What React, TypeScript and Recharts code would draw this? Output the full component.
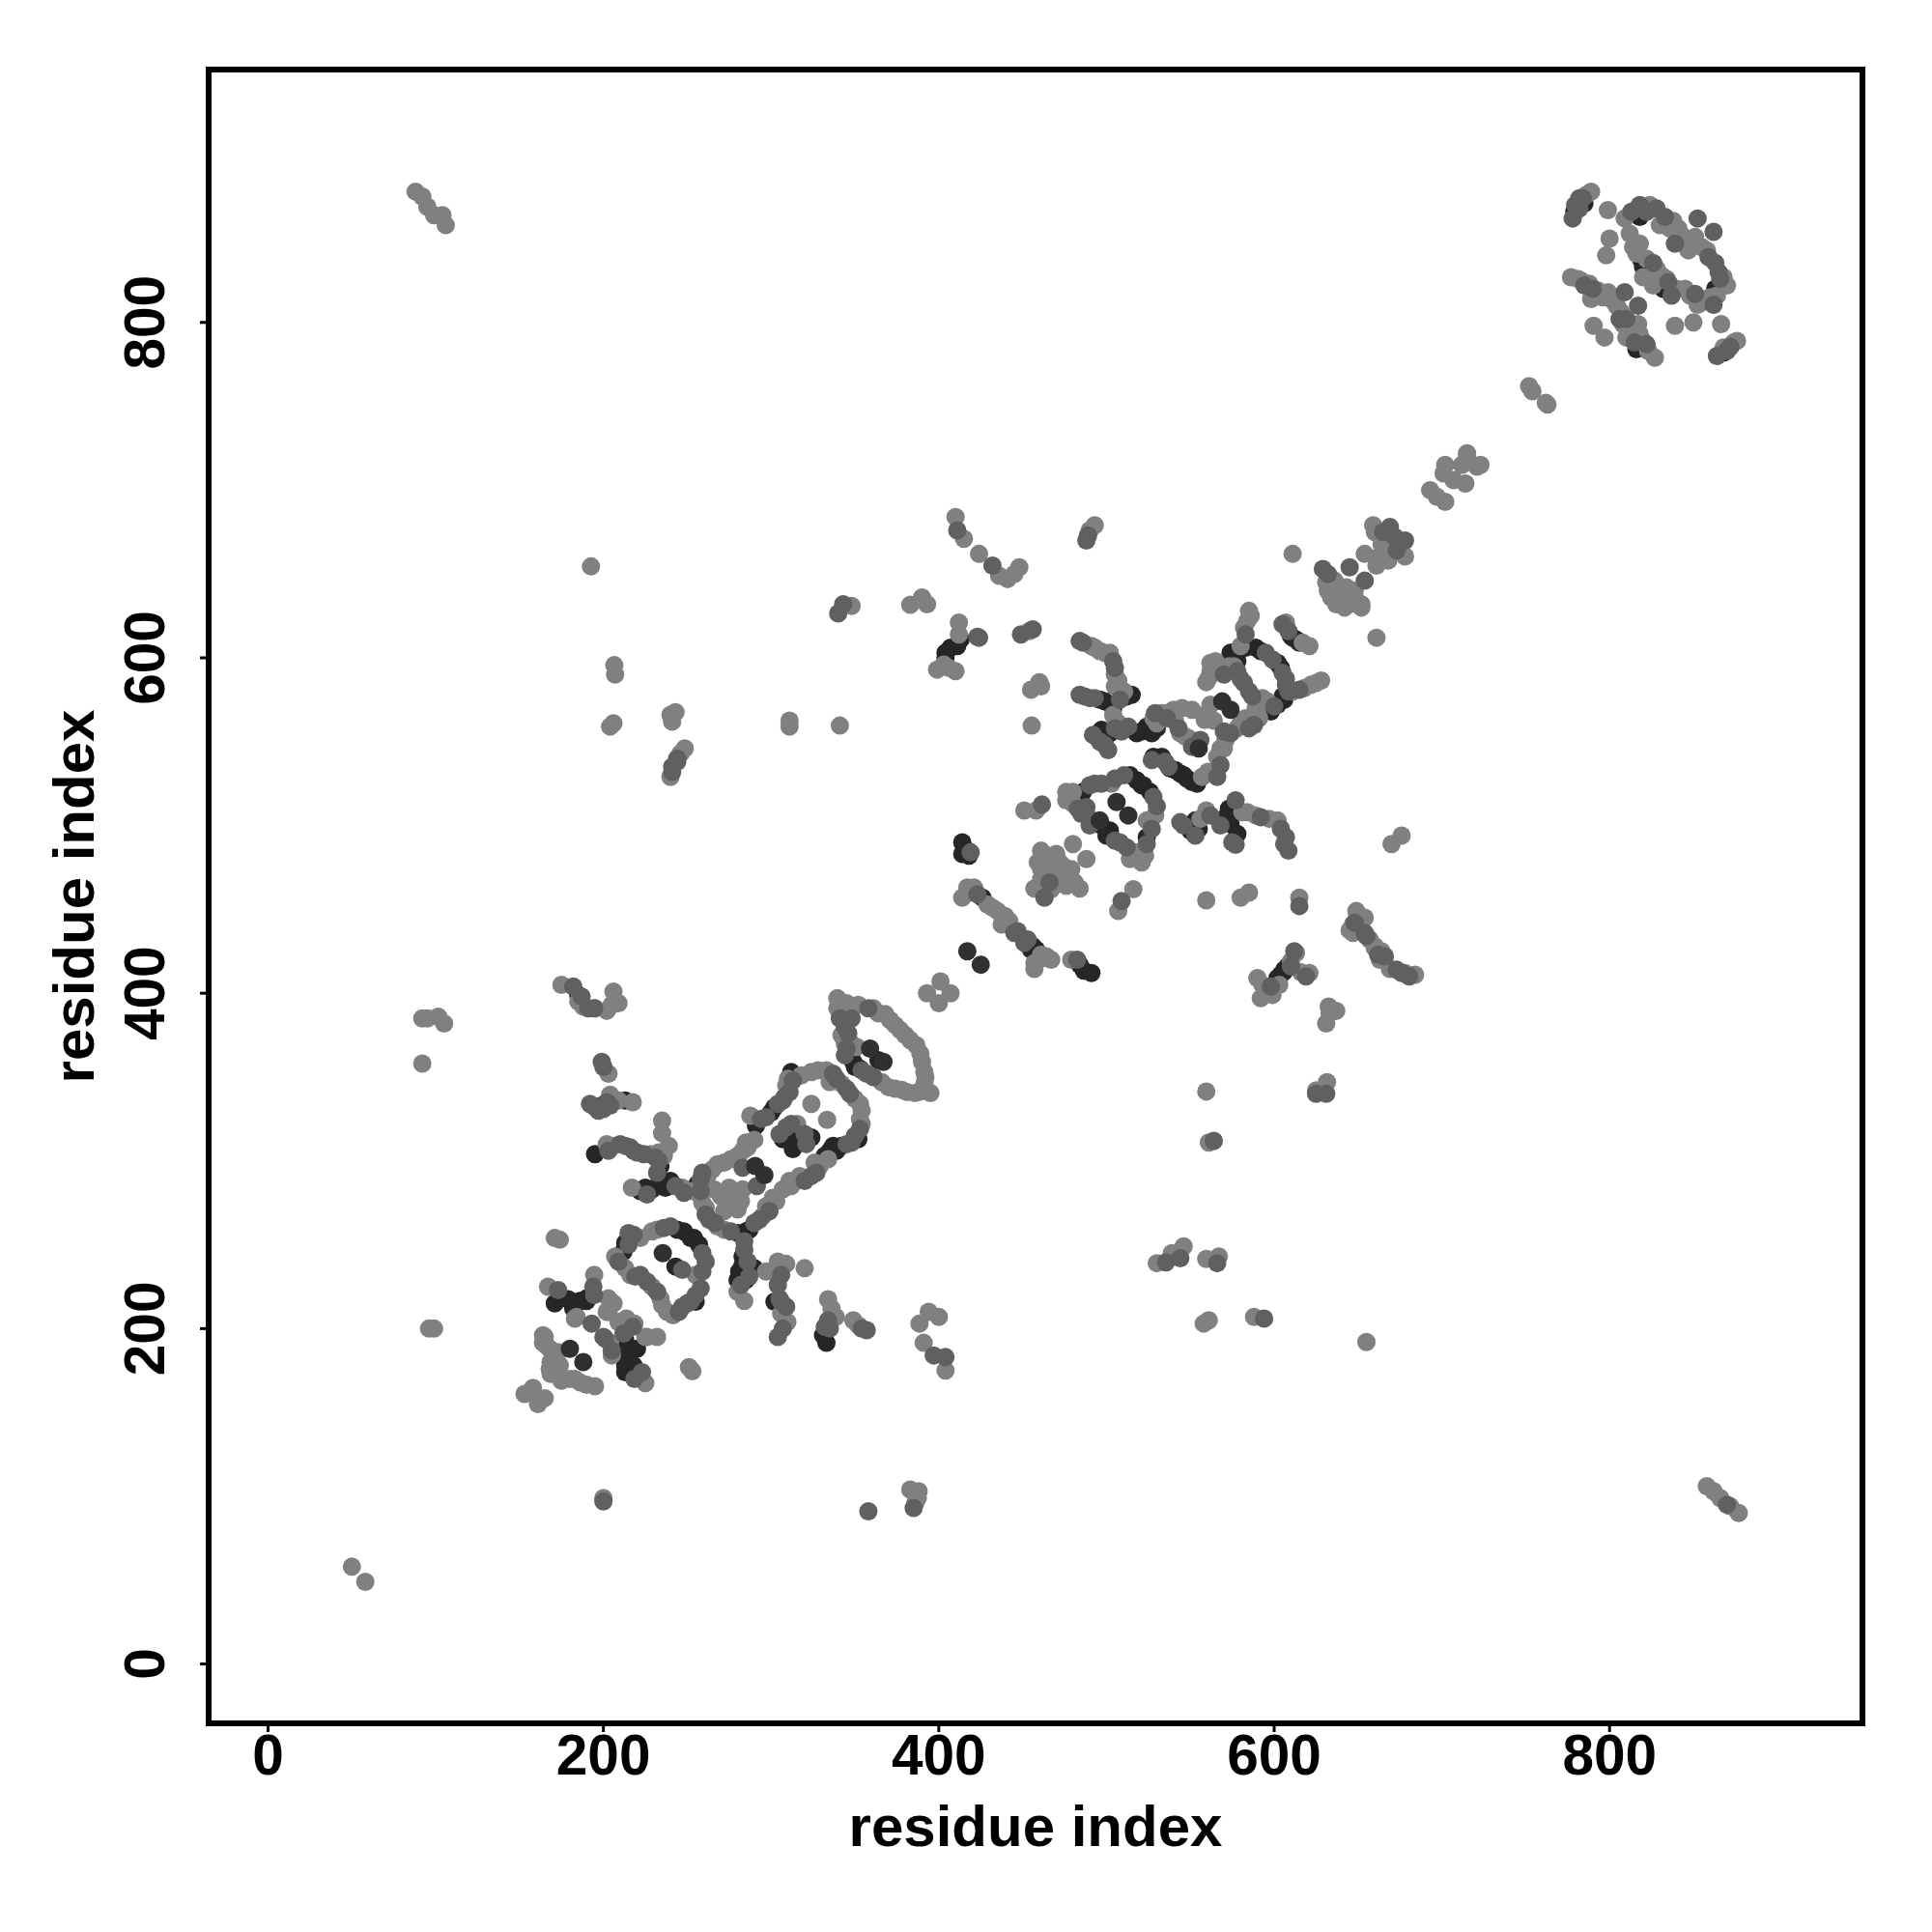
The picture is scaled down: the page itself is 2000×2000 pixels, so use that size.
import { ReferenceArea, Scatter, ScatterChart, XAxis, YAxis } from "recharts";

const tickValues = [0, 200, 400, 600, 800];
const axisDomain = [-35.4, 950.8];
const axisTitle = "residue index";

// residue pairs, split by grey level (dark under, mid over light)
const darkPairs = [
  [185,399],[179,217.5],[186,216.5],[182,212],[190,218],[213,193],[220,188],[215,181],[213,174],[218,178],[213,251],[248,258],[257,250],[252,254],
  [243,237],[281,234],[290,236],[280,229],[285,229],[285,258],[280,257],[333,191.5],[331,196],[302,332],[291,321],[312,353],[352,313],[337,309],[332,303],
  [307,313],[313,307],[324,314],[335,306],[349,359],[364,360],[353,355],[235,285],[240,288],[229,283],[222,282],[195,304],[213,336],
  [417,485],[414,490],[418,482],[426,457],[456,428],[486.5,413.5],[491,412],[484,417],[515,578],[499,574],[504,570],[502,555],[497,557],[518,555],[527,555],
  [524,559],[533,541],[541,533],[551,526],[546,530],[484,517],[518,527],[526,520],[522,524],[524,493],[502,497],[497,500],[551,501],[555,498],[570,504],[574,501],
  [574,603],[578,598],[589,606],[604,594],[602,572],[606,575],[598,568],[606,413],[602,409],[608,416],[599,404],[615,609],[611,612],[819,837],[820,833],[816,784],
  [818,863],[832,820],[863,820],[868,782],[785,871],[779,866],[404,603],[407,606],[411,607],[413,611],[455,426],[451,431],[302,216],[283,238],
  [171,215],[190,216.5],[211,186],[215,188],[213,178],[350,356],[300,329],[342,309],[339,306],[287,259],[283,256],[311,318],[316,312],[256,286],[212,246],[244,259],[254,254],[255,216],
  [283,243],[332,196],[225,284],[233,286],[237,284],[199,333],[234,297],[578,604],[576,601],[583,606],[592,604],[602,597],[605,577],[552,548],[610,613],[613,611],[512,577],[496,575],[521,556],[530,558],
  [528,541],[538,534],[544,531],[548,528],[554,525],[486,520],[514,530],[521,524],[500,494],[553,503],[550,497],[572,506],[573,510],[578,495],[458,426],[414,483],[604,411],[606,414],[404,600]
];
const midPairs = [
  [182,404],[191,391],[194.5,391],[199,359],[200,356],[192,334],[195,332],[200,331],[202,335],[210,310],[216,308],[220,305],[203,306],[233,300],[232,293],
  [173,223],[194,225],[193,203],[200,195],[217.5,201],[205,187],[223,174],[218.5,170],[215,257],[222,232],[232,222],[247,213],[255,220],[252,216],[240,261],[261,240],[247,235],
  [284,247],[286,240],[305,218],[309,213],[304,195],[332,201],[357,199],[397,184],[404,183],[344,380],[344,363],[341,385],[354,354],[361,350],[358,391],[346,376],
  [297,326],[307,336],[311,341],[339,349],[347,340],[353,319],[345,310],[324,291],[320,288],[309,320],[321,310],[293,265],[291.5,285],[259,293],[261,268],[266.5,263],[283,296],
  [488,670],[489,673],[432,655],[449,614],[456,617],[424,612],[484,610],[505,594],[484,578],[490,576],[492,554],[501,545],[513,559],[529,567],[570,556],[543,558],[551,547],
  [527,539],[537,535],[566,529],[493,525],[510.5,530],[530,511.5],[505,491],[489,505],[483,510],[461.5,512.5],[544,502],[553,494],[577,515],[577,488.5],[592,505],[607,493],[608.5,485],
  [595,603],[607,587.5],[580,587.5],[585,580],[608.5,580],[585,558],[608.5,616],[629,653],[645,654],[654,646],[669,678],[678,670],[463,457],[509,455],[615,452],[655,434],[654,436],
  [445,436],[451,430],[482.5,420],[612,425],[598,404],[625,340],[631,340],[564,312],[535.5,239.5],[544,242],[566,239],[594,206],[662,423],[676,412],[680.5,410],
  [784,874],[779.5,870],[782,874],[778,862],[818,870],[833,863],[839,847],[852.5,862],[862,854],[859,839],[863,835.5],[862,810.5],[826,835.5],[835,824],[837,816],[851,817],
  [809,818],[817,810],[785,822],[806,802],[822,787],[872,785.5],[864,780],[343,632],[340,626.5],[244,540],[241,535],[200,97],[358,91],[385,93],[411,676],[423,612.5],[870,95],
  [813,866],[822,866],[828,868],[865,830],[866,826],[790,820],[810,802],[815,788],[782,868],[870,783],[194.5,220],[201,194],[212,197],[357,352],[345,367],[343,383],[348,385],
  [294,325],[304,334],[308,338],[313,348],[337,352],[345,343],[350,315],[348,311],[327,293],[299,270],[290,263],[320,316],[312,322],[305,316],[258,289],[263,265],[276,258],
  [215,250],[209,240],[219,231],[226,228],[245,210],[250,215],[258,224],[259,234],[236,260],[259,245],[218,256],[284,252],[287,231],[282,226],[306,232],[304,226],[306,216],[307,200],[334,205],[335,200],[354,200],
  [226,280],[243,285],[248,281],[258,282],[213,309],[218,306],[224,304],[231,302],[197,330],[204,333],[583,614],[599,599],[605,591],[607,584],[600,571],[615,581],[570,590],[578,592],[582,585],[587,577],[588,560],[574,555],[556,551],[536,564],
  [605,620],[486,609],[504,598],[508,575],[493,576],[487,577],[496,550],[499,548],[505,558],[509,556],[535,538],[568,536],[490,524],[497,525],[505,528],[528,517],[527,498],[524,489],[512,487],[508,490],[490,500],[485,507],[488,511],
  [546,500],[562,506],[568,500],[575,490],[604,498],[606,489],[466,466],[632,650],[665,675],[672,672],[673,664],[423,459],[447,437],[453,432],[648,442],[666,422],[673,414],[610,416],[619,410],[419,484],[187,398],[241,532],[244,538]
];
const lightPairs = [
  [175,405],[185,395],[202,389.5],[205,393],[209,394],[206,401],[203,352],[204,339.5],[209,336],[217.5,335],[202,310],[228,304],[233,305],[239,309],[235,316.5],[235,324],
  [217,284],[247,284],[253,282],[167,225],[194.5,232],[184,207],[205,214.6],[203,210],[213.7,206],[225,195],[232,195],[225,167.5],[165,195],[166,190],[168.5,180],[168.5,173],
  [175,169],[183,170],[190,166.5],[195,165.6],[173,186],[253,174.6],[251,177],[158,164.6],[153,161],[165,158.5],[161,155],[174,253],[171,254],[222,254],[207,243],[213,236],
  [235,214],[241.5,208],[232,259],[255,232],[280,222],[284,216.5],[297,234],[309,238.6],[304,236],[320,236],[309.7,204],[334,217.5],[338.5,207],[349,205],[394,210],[400,207],
  [388.5,203],[391,191.5],[404,175],[339.5,397],[339.5,391],[344,370],[370,344],[378,342.4],[385.6,340.5],[395,340.5],[349,392],[368,387.6],[374,381],[380,375],[386.6,369],[390,359],[391.4,353],
  [391.4,346],[290,312.6],[287.6,327],[310,349],[324,353],[333,354],[335,347],[353,334],[353,325],[326,299],[311,288],[301,278],[297,273],[324,334],[333.4,324.5],[315.5,322],[265,295],
  [272,299],[280,303],[285,311],[275,284],[282,276],[274,274],[259,275],[272,259],[266,283],[401,407],[393,400],[407,400],[400,394],
  [493,679],[490,676],[424,662],[436,649],[441,647],[448,654],[445,650],[454,616],[460,585.5],[455,581],[461,583],[455.4,559.6],[491,607],[502,603],[507,586.5],[510.5,580],[504,566],[507,561],
  [530,561],[535.5,567],[545,570],[558.6,566],[570,546],[544,555],[547,553],[562,572],[558.6,563],[564,562.5],[589,570],[560.5,532],[566,541],[476,520],[503,525],[524,503],[521,478],[514,480],[451,509],[458,509],
  [559.5,509],[581,508],[602,503],[585,628],[582,618],[562,597],[559.5,585.5],[576,595],[593,576],[618,582],[628,586.5],[591,564],[580,561],[607,621],[621,607],[611,662],[661,612],[631,645],
  [637,643],[652,630],[637,632],[644,638],[648,636],[654,662],[661,655],[659,679],[664,668],[668,664],[678,660.5],[480,489],[488,480],[461,485],[457,462.5],[467,462],[484,462.5],[479,468],[472,478],[468,474],[461,468],
  [516,462],[507,449],[559.5,455.4],[580,457],[585,460],[615,457],[676,494],[670,489],[649,449],[645,437.5],[660,427],[418,461],[432,451],[439.5,446],[464,422],[421,463],[414,457],[437.5,441],
  [457,414.5],[461,423],[467,420],[479,420],[610,419],[621,412],[616,412.5],[590,409],[592,397],[599,399],[632.5,392],[637,389.5],[631,382],[633,388],[647,436],[660,428],[669,414.5],[684,411],[647,441],[654,445],
  [559.5,341.4],[561,311],[631.5,347],[625,342],[530,239],[539,245],[546,249],[559.5,241.5],[567,243],[558,203],[561,205],[588,207],[655,192],
  [192.6,654.5],[206.5,595.6],[207,590],[204,559],[206,561],[240,566],[243,567.6],[241,562],[248.5,546],[240,529],[311,562.5],[311,559],[341,559.6],[348,631],[383,631.6],[390,636],[393,632],
  [412,621],[403,596],[399,593],[410,592],[410,684],[415,671],[88,878],[92,875],[95,869],[99,864],[104,864],[106,858],[858,106],[862,103],[866,99],[872,94],[877,90],
  [92,358],[92,385],[95,385],[101.5,386],[105,382],[96,200],[99,200],[200,99],[383,104],[388,103],[387.5,99],[386,96],[50,58],[58,49],
  [752,762],[754,759],[762,752],[763,751],[693,700],[697,696],[702,693],[702,715],[707,706],[715,721],[714,704],[723,715],[712,715],[701,710],
  [789,878],[799,867],[800,850],[798,840],[809,862],[824,870],[838,860.5],[843,852],[847,843],[851,851],[870,822],[868,827],[812,853],[818,847],[820,827],[826,822],[845,820],[852.5,810.5],[858,814],
  [850,800],[839,798],[866.5,799],[777,827],[781,826],[793,819],[789,814],[801,814],[804.5,809.5],[817,799],[818,793],[810,791],[827,779],[790.5,798],[797,791],[876,789],[715,722],[721,714],
  [830,858],[836,856],[841,856],[845,848],[849,846],[855,845],[858,843],[814,845],[816,841],[822,838],[828,832],[831,828],[834,826],[840,820],[848,816],[855,812],[860,815],[864,816],
  [783,825],[788,823],[791,816],[796,815],[799,818],[803,812],[807,806],[808,799],[812,797],[814,793],[819,790],[823,783],[786,876],[868,785],[874,788],
  [183,206],[203,218],[206,215],[202,210],[209,204],[218.5,203],[204,191.5],[205,184],[226,195],[164,196],[164,191.5],[168,188],[168,176],[174,178],[180,170],[186,168],
  [342,388],[345,394],[352,393],[361,391],[364,388],[371,384],[377,378],[383,372],[389,364],[392,350],[392,343],[388,341],[381,341],[374,343],[366,347],[342,375],[347,371],[351,368],
  [309,345],[318,351],[328,354],[342,346],[350,337],[354,330],[354,322],[334,301],[329,297],[317,291],[312,285],[307,283],[303,276],[295,267],[262,291],[268,298],[276,301],[283,306],[286,308],
  [261,272],[258,279],[268,261],[278,279],[270,279],[283,283],[280,271],[272,270],[216,232],[229,225],[234,218],[238,210],[229,258],[301,234],[304,240],[306,209],[336,212],[352,202],[206,309],[236,303],[206,337],
  [586,625],[584,622],[580,607],[611,580],[622,584],[625,585],[596,574],[573,595],[565,598],[562,592],[561,588],[590,567],[583,564],[578,558],[571,551],[568,546],[549,552],[541,562],[617,609],
  [496,604],[493,606],[499,603],[505,590],[505,583],[505,563],[528,564],[533,567],[540,569],[551,569],[557,529],[562,532],[480,520],[529,506],[523,482],[517,484],[480,513],[476,515],[556,504],[584,508],[589,506],[597,504],
  [461,474],[465,482],[470,483],[474,476],[479,474],[481,466],[476,464],[470,470],[459,478],[463,458],[472,466],[632,640],[636,646],[640,638],[643,642],[645,632],[648,640],[652,632],[634,636],[642,630],
  [660,675],[662,660],[668,658],[676,663],[429,453],[435,449],[442,443],[462,421],[457,418],[421,460],[417,463],[650,446],[652,438],[657,432],[664,425],[663,420],[678,412],[603,405],[595,402],[593,405],[613,424],
  [412,614],[406,594],[195,391],[188,392],[246,543]
];
const accentPairs = [
  [359,367],[367,359],[290.5,297],[296,291.5],[235.4,245],[180,188],[188,180],[569,574],[574,569],[555,546],[496,503],[506,514],[513,506],
  [417,425],[425,417]
];

const toRows = (pairs: number[][]) => pairs.map(([x, y]) => ({ x, y }));

const tickFont = { fontFamily: "Liberation Sans", fontWeight: 700, fontSize: 58.5, fill: "#000" };
const titleFont = { ...tickFont, fontSize: 60 };

function LeftTick({ x, y, payload }: any) {
  const bx = x - 35;
  return (
    <text x={bx} y={y} transform={`rotate(-90 ${bx} ${y})`} textAnchor="middle" {...tickFont}>
      {payload.value}
    </text>
  );
}

function BottomTick({ x, y, payload }: any) {
  return (
    <text x={x} y={y + 42} textAnchor="middle" {...tickFont}>
      {payload.value}
    </text>
  );
}

function Dot({ cx, cy, fill }: any) {
  return <circle cx={cx} cy={cy} r={9.5} fill={fill} />;
}

export default function App() {
  return (
    <div style={{ position: "absolute", left: 0, top: 0, width: 2000, height: 2000, background: "#fff" }}>
      <ScatterChart width={2000} height={2000} margin={{ top: 72, right: 72, bottom: 76, left: 76 }}>
        <XAxis
          type="number"
          dataKey="x"
          domain={axisDomain}
          ticks={tickValues}
          height={140}
          allowDataOverflow
          axisLine={false}
          tickLine={{ stroke: "#000", strokeWidth: 3 }}
          tickSize={9}
          tick={<BottomTick />}
          label={{ value: axisTitle, position: "insideBottom", offset: 13, style: titleFont }}
        />
        <YAxis
          type="number"
          dataKey="y"
          domain={axisDomain}
          ticks={tickValues}
          width={140}
          allowDataOverflow
          axisLine={false}
          tickLine={{ stroke: "#000", strokeWidth: 3 }}
          tickSize={9}
          tick={<LeftTick />}
          label={{ value: axisTitle, angle: -90, position: "insideLeft", offset: 0, style: { ...titleFont, textAnchor: "middle" } }}
        />
        <Scatter data={toRows(darkPairs)} fill="#262626" shape={<Dot />} isAnimationActive={false} />
        <Scatter data={toRows(lightPairs)} fill="#808080" shape={<Dot />} isAnimationActive={false} />
        <Scatter data={toRows(midPairs)} fill="#606060" shape={<Dot />} isAnimationActive={false} />
        <Scatter data={toRows(accentPairs)} fill="#303030" shape={<Dot />} isAnimationActive={false} />
        <ReferenceArea
          x1={axisDomain[0]}
          x2={axisDomain[1]}
          y1={axisDomain[0]}
          y2={axisDomain[1]}
          fill="none"
          stroke="#000"
          strokeWidth={6}
          ifOverflow="visible"
        />
      </ScatterChart>
    </div>
  );
}
